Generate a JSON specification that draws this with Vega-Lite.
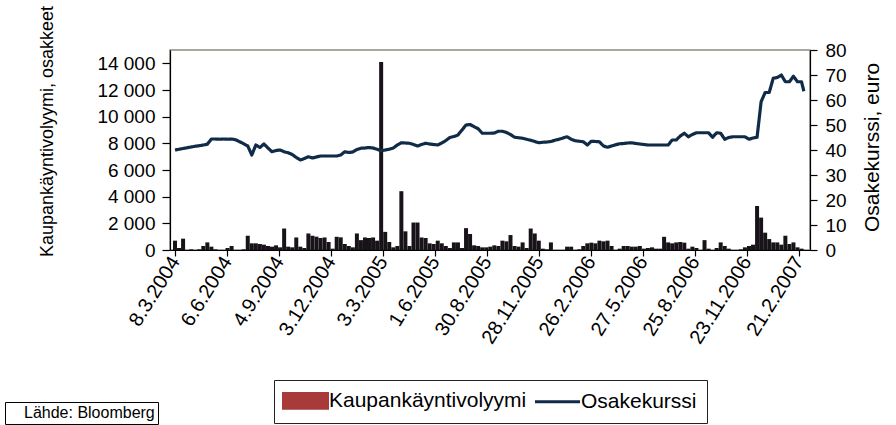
{
  "$schema": "https://vega.github.io/schema/vega-lite/v6.json",
  "autosize": "none",
  "width": 640,
  "height": 200,
  "padding": {"left": 170, "top": 50, "right": 86, "bottom": 175},
  "background": "white",
  "config": {
    "font": "Liberation Sans",
    "view": {"stroke": "#8c8c80", "strokeWidth": 1.5},
    "axis": {"grid": false, "domainColor": "#000", "tickColor": "#000", "labelColor": "#000", "titleColor": "#000", "labelFont": "Liberation Sans", "titleFont": "Liberation Sans", "titleFontWeight": "normal", "domainWidth": 1.2, "tickWidth": 1.2}
  },
  "data": {"values": [
    {"d":"2004-03-08","v":700,"p":40},{"d":"2004-03-15","v":150,"p":40.3},{"d":"2004-03-22","v":850,"p":40.6},{"d":"2004-03-29","v":0,"p":40.9},
    {"d":"2004-04-05","v":50,"p":41.2},{"d":"2004-04-12","v":0,"p":41.5},{"d":"2004-04-19","v":50,"p":41.7},{"d":"2004-04-26","v":300,"p":42},
    {"d":"2004-05-03","v":570,"p":42.3},{"d":"2004-05-10","v":250,"p":44.4},{"d":"2004-05-17","v":50,"p":44.4},{"d":"2004-05-24","v":0,"p":44.3},
    {"d":"2004-05-31","v":0,"p":44.4},{"d":"2004-06-07","v":150,"p":44.3},{"d":"2004-06-14","v":300,"p":44.4},{"d":"2004-06-21","v":0,"p":44.1},
    {"d":"2004-06-28","v":0,"p":43.3},{"d":"2004-07-05","v":50,"p":42.5},{"d":"2004-07-12","v":1070,"p":41.6},{"d":"2004-07-19","v":500,"p":38},
    {"d":"2004-07-26","v":500,"p":42},{"d":"2004-08-02","v":450,"p":41},{"d":"2004-08-09","v":400,"p":42.4},{"d":"2004-08-16","v":300,"p":40.8},
    {"d":"2004-08-23","v":250,"p":39.3},{"d":"2004-08-30","v":350,"p":39.8},{"d":"2004-09-06","v":200,"p":40},{"d":"2004-09-13","v":1610,"p":39.3},
    {"d":"2004-09-20","v":250,"p":38.9},{"d":"2004-09-27","v":200,"p":38.2},{"d":"2004-10-04","v":940,"p":37},{"d":"2004-10-11","v":250,"p":36},
    {"d":"2004-10-18","v":150,"p":36.6},{"d":"2004-10-25","v":1240,"p":37.3},{"d":"2004-11-01","v":1070,"p":36.8},{"d":"2004-11-08","v":1000,"p":37.2},
    {"d":"2004-11-15","v":900,"p":37.6},{"d":"2004-11-22","v":940,"p":37.6},{"d":"2004-11-29","v":600,"p":37.6},{"d":"2004-12-06","v":100,"p":37.6},
    {"d":"2004-12-13","v":990,"p":37.6},{"d":"2004-12-20","v":950,"p":38},{"d":"2004-12-27","v":450,"p":39.3},{"d":"2005-01-03","v":300,"p":39},
    {"d":"2005-01-10","v":200,"p":39.2},{"d":"2005-01-17","v":1240,"p":40.2},{"d":"2005-01-24","v":740,"p":40.7},{"d":"2005-01-31","v":940,"p":40.8},
    {"d":"2005-02-07","v":900,"p":41},{"d":"2005-02-14","v":940,"p":40.8},{"d":"2005-02-21","v":700,"p":40.3},{"d":"2005-02-28","v":14100,"p":39.7},
    {"d":"2005-03-07","v":1360,"p":40},{"d":"2005-03-14","v":600,"p":40.3},{"d":"2005-03-21","v":200,"p":40.8},{"d":"2005-03-28","v":300,"p":42},
    {"d":"2005-04-04","v":4410,"p":42.9},{"d":"2005-04-11","v":1400,"p":42.8},{"d":"2005-04-18","v":300,"p":42.7},{"d":"2005-04-25","v":2060,"p":42.2},
    {"d":"2005-05-02","v":2060,"p":41.6},{"d":"2005-05-09","v":940,"p":42.2},{"d":"2005-05-16","v":900,"p":42.7},{"d":"2005-05-23","v":500,"p":42.4},
    {"d":"2005-05-30","v":450,"p":42.2},{"d":"2005-06-06","v":700,"p":42},{"d":"2005-06-13","v":500,"p":42.8},{"d":"2005-06-20","v":300,"p":43.8},
    {"d":"2005-06-27","v":150,"p":45},{"d":"2005-07-04","v":570,"p":45.4},{"d":"2005-07-11","v":570,"p":46},{"d":"2005-07-18","v":150,"p":48},
    {"d":"2005-07-25","v":1640,"p":50},{"d":"2005-08-01","v":1200,"p":50.2},{"d":"2005-08-08","v":350,"p":49.3},{"d":"2005-08-15","v":300,"p":48.5},
    {"d":"2005-08-22","v":200,"p":46.7},{"d":"2005-08-29","v":200,"p":46.7},{"d":"2005-09-05","v":250,"p":46.7},{"d":"2005-09-12","v":350,"p":46.8},
    {"d":"2005-09-19","v":300,"p":47.5},{"d":"2005-09-26","v":700,"p":47.5},{"d":"2005-10-03","v":650,"p":47},{"d":"2005-10-10","v":1120,"p":46.2},
    {"d":"2005-10-17","v":300,"p":45.1},{"d":"2005-10-24","v":250,"p":44.9},{"d":"2005-10-31","v":570,"p":44.7},{"d":"2005-11-07","v":150,"p":44.3},
    {"d":"2005-11-14","v":1610,"p":43.9},{"d":"2005-11-21","v":1240,"p":43.4},{"d":"2005-11-28","v":700,"p":42.9},{"d":"2005-12-05","v":100,"p":43.1},
    {"d":"2005-12-12","v":50,"p":43.2},{"d":"2005-12-19","v":570,"p":43.4},{"d":"2005-12-26","v":0,"p":43.9},{"d":"2006-01-02","v":0,"p":44.3},
    {"d":"2006-01-09","v":0,"p":44.8},{"d":"2006-01-16","v":250,"p":45.3},{"d":"2006-01-23","v":250,"p":44.3},{"d":"2006-01-30","v":0,"p":43.7},
    {"d":"2006-02-06","v":50,"p":43.5},{"d":"2006-02-13","v":300,"p":43.3},{"d":"2006-02-20","v":500,"p":42},{"d":"2006-02-27","v":550,"p":43.5},
    {"d":"2006-03-06","v":500,"p":43.4},{"d":"2006-03-13","v":700,"p":43.3},{"d":"2006-03-20","v":650,"p":41.6},{"d":"2006-03-27","v":700,"p":41.1},
    {"d":"2006-04-03","v":300,"p":41.6},{"d":"2006-04-10","v":0,"p":42.1},{"d":"2006-04-17","v":100,"p":42.5},{"d":"2006-04-24","v":300,"p":42.6},
    {"d":"2006-05-01","v":300,"p":42.8},{"d":"2006-05-08","v":250,"p":42.9},{"d":"2006-05-15","v":250,"p":42.6},{"d":"2006-05-22","v":300,"p":42.4},
    {"d":"2006-05-29","v":100,"p":42.2},{"d":"2006-06-05","v":150,"p":42},{"d":"2006-06-12","v":200,"p":42},{"d":"2006-06-19","v":100,"p":42},
    {"d":"2006-06-26","v":100,"p":42},{"d":"2006-07-03","v":990,"p":42},{"d":"2006-07-10","v":570,"p":42},{"d":"2006-07-17","v":500,"p":44},
    {"d":"2006-07-24","v":570,"p":44},{"d":"2006-07-31","v":600,"p":45.6},{"d":"2006-08-07","v":550,"p":46.7},{"d":"2006-08-14","v":100,"p":45.3},
    {"d":"2006-08-21","v":250,"p":46.2},{"d":"2006-08-28","v":150,"p":46.9},{"d":"2006-09-04","v":0,"p":46.9},{"d":"2006-09-11","v":740,"p":46.9},
    {"d":"2006-09-18","v":100,"p":46.9},{"d":"2006-09-25","v":0,"p":45.1},{"d":"2006-10-02","v":150,"p":46.9},{"d":"2006-10-09","v":570,"p":46.7},
    {"d":"2006-10-16","v":300,"p":44.3},{"d":"2006-10-23","v":100,"p":45},{"d":"2006-10-30","v":0,"p":45.3},{"d":"2006-11-06","v":0,"p":45.3},
    {"d":"2006-11-13","v":50,"p":45.3},{"d":"2006-11-20","v":200,"p":45.3},{"d":"2006-11-27","v":300,"p":44.3},{"d":"2006-12-04","v":400,"p":44.8},
    {"d":"2006-12-11","v":3300,"p":45.1},{"d":"2006-12-18","v":2430,"p":59.3},{"d":"2006-12-25","v":1300,"p":63},{"d":"2007-01-01","v":820,"p":63},
    {"d":"2007-01-08","v":570,"p":68.7},{"d":"2007-01-15","v":570,"p":69},{"d":"2007-01-22","v":400,"p":70},{"d":"2007-01-29","v":1070,"p":67.3},
    {"d":"2007-02-05","v":450,"p":67.3},{"d":"2007-02-12","v":570,"p":69.5},{"d":"2007-02-19","v":200,"p":67.3},{"d":"2007-02-26","v":100,"p":67.3},
    {"d":"2007-03-02","v":0,"p":63.5}
  ]},
  "layer": [
    {
      "mark": {"type": "bar", "width": 4, "color": "#181318"},
      "encoding": {
        "x": {
          "field": "d", "type": "temporal",
          "scale": {"type": "utc", "domain": [{"year": 2004, "month": 3, "date": 8, "utc": true}, {"year": 2007, "month": 3, "date": 4, "utc": true}]},
          "axis": {
            "title": null,
            "values": [
              {"year": 2004, "month": 3, "date": 8, "utc": true},
              {"year": 2004, "month": 6, "date": 6, "utc": true},
              {"year": 2004, "month": 9, "date": 4, "utc": true},
              {"year": 2004, "month": 12, "date": 3, "utc": true},
              {"year": 2005, "month": 3, "date": 3, "utc": true},
              {"year": 2005, "month": 6, "date": 1, "utc": true},
              {"year": 2005, "month": 8, "date": 30, "utc": true},
              {"year": 2005, "month": 11, "date": 28, "utc": true},
              {"year": 2006, "month": 2, "date": 26, "utc": true},
              {"year": 2006, "month": 5, "date": 27, "utc": true},
              {"year": 2006, "month": 8, "date": 25, "utc": true},
              {"year": 2006, "month": 11, "date": 23, "utc": true},
              {"year": 2007, "month": 2, "date": 21, "utc": true}
            ],
            "labelExpr": "utcFormat(datum.value, '%-d.%-m.%Y')",
            "labelAngle": -58,
            "labelAlign": "right",
            "labelBaseline": "middle",
            "labelFontSize": 20,
            "labelOverlap": false,
            "labelBound": false,
            "labelFlush": false,
            "tickSize": 6,
            "labelPadding": 2
          }
        },
        "y": {
          "field": "v", "type": "quantitative",
          "scale": {"domain": [0, 15000]},
          "axis": {
            "values": [0, 2000, 4000, 6000, 8000, 10000, 12000, 14000],
            "labelExpr": "replace(format(datum.value, ','), ',', ' ')",
            "labelFontSize": 19,
            "tickSize": 8,
            "labelPadding": 7,
            "title": "Kaupankäyntivolyymi, osakkeet",
            "titleFontSize": 18,
            "titleAngle": 270,
            "titleAlign": "center",
            "titleBaseline": "bottom",
            "titleX": -114,
            "titleY": 81
          }
        }
      }
    },
    {
      "mark": {"type": "line", "strokeWidth": 3.2, "strokeJoin": "round", "color": "#0f2b47"},
      "encoding": {
        "x": {"field": "d", "type": "temporal"},
        "y": {
          "field": "p", "type": "quantitative",
          "scale": {"domain": [0, 80]},
          "axis": {
            "orient": "right",
            "values": [0, 10, 20, 30, 40, 50, 60, 70, 80],
            "labelFontSize": 19,
            "tickSize": 7,
            "labelPadding": 8,
            "title": "Osakekurssi, euro",
            "titleFontSize": 21,
            "titleAngle": 270,
            "titleAlign": "center",
            "titleBaseline": "bottom",
            "titleX": 72,
            "titleY": 97
          }
        },
        "color": {
          "datum": "Osakekurssi",
          "scale": {"domain": ["Kaupankäyntivolyymi", "Osakekurssi"], "range": ["#a83a3a", "#0f2b47"]},
          "legend": {
            "title": null,
            "orient": "none",
            "legendX": 104,
            "legendY": 330,
            "direction": "horizontal",
            "strokeColor": "#222",
            "fillColor": "white",
            "padding": 10,
            "labelFontSize": 21,
            "labelFont": "Liberation Sans",
            "labelColor": "#000",
            "labelLimit": 400,
            "labelOffset": 13,
            "symbolOffset": 11,
            "columnPadding": 2,
            "symbolSize": 2025,
            "symbolStrokeWidth": 2,
            "encode": {
              "symbols": {
                "enter": {
                  "shape": {"signal": "datum.value === 'Osakekurssi' ? 'stroke' : 'M-1,-0.35H1V0.35H-1Z'"},
                  "fill": {"signal": "datum.value === 'Osakekurssi' ? 'transparent' : '#a83a3a'"},
                  "stroke": {"signal": "datum.value === 'Osakekurssi' ? '#0f2b47' : '#000'"},
                  "strokeWidth": {"signal": "datum.value === 'Osakekurssi' ? 3 : 2"}
                },
                "update": {
                  "shape": {"signal": "datum.value === 'Osakekurssi' ? 'stroke' : 'M-1,-0.35H1V0.35H-1Z'"},
                  "fill": {"signal": "datum.value === 'Osakekurssi' ? 'transparent' : '#a83a3a'"},
                  "stroke": {"signal": "datum.value === 'Osakekurssi' ? '#0f2b47' : '#000'"},
                  "strokeWidth": {"signal": "datum.value === 'Osakekurssi' ? 3 : 2"},
                  "opacity": {"value": 1}
                }
              }
            }
          }
        },
        "strokeDash": {
          "datum": "Lähde: Bloomberg",
          "scale": {"range": [[1, 0]]},
          "legend": {
            "title": null,
            "orient": "none",
            "legendX": -165,
            "legendY": 352,
            "strokeColor": "#000",
            "fillColor": "white",
            "padding": 3,
            "labelFontSize": 16,
            "labelFont": "Liberation Sans",
            "labelColor": "#000",
            "labelOffset": 0,
            "symbolSize": 0,
            "symbolOpacity": 0,
            "symbolStrokeWidth": 0
          }
        }
      }
    }
  ],
  "resolve": {"scale": {"y": "independent"}}
}
